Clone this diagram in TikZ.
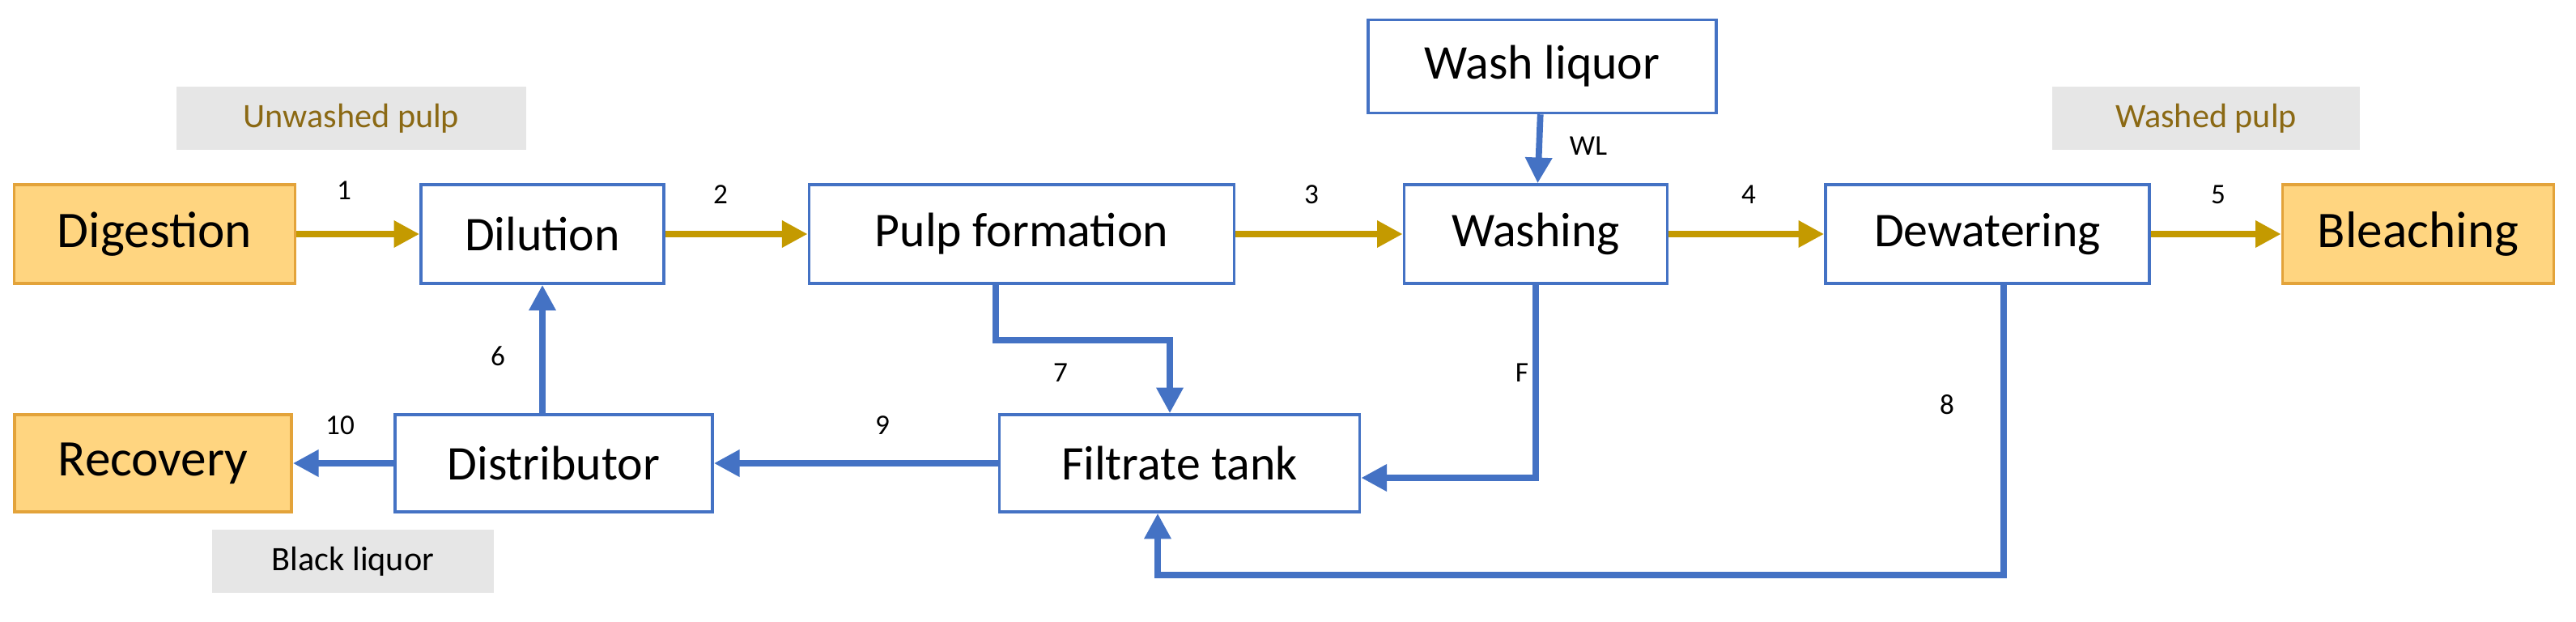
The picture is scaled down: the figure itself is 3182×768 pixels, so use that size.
\documentclass[tikz,border=0pt]{standalone}
\usepackage{fontspec}
\setmainfont{Carlito}
\usetikzlibrary{arrows.meta}
\definecolor{gold}{HTML}{C49A00}
\definecolor{bl}{HTML}{4472C4}
\definecolor{orf}{HTML}{FFD580}
\definecolor{orb}{HTML}{E3A33A}
\definecolor{gr}{HTML}{E6E6E6}
\definecolor{brn}{HTML}{8B6914}
\begin{document}
\begin{tikzpicture}[x=0.01cm,y=-0.01cm,
  box/.style={draw=bl,line width=1pt,fill=white,inner sep=0,font=\fontsize{17}{20}\selectfont},
  ext/.style={draw=orb,line width=1pt,fill=orf,inner sep=0,font=\fontsize{18}{20}\selectfont},
  tag/.style={fill=gr,inner sep=0,font=\fontsize{12}{14}\selectfont},
  ga/.style={draw=gold,line width=2.2pt,-{Triangle[length=9pt,width=9pt]}},
  ba/.style={draw=bl,line width=2.2pt,-{Triangle[length=9pt,width=9pt]}},
  lb/.style={font=\fontsize{10}{12}\selectfont}]
\useasboundingbox (0,0) rectangle (3182,768);
\node[ext,minimum width=3.47cm,minimum height=1.22cm] (dig) at (191,289) {Digestion};
\node[box,minimum width=3.00cm,minimum height=1.22cm] (dil) at (670,289) {Dilution};
\node[box,minimum width=5.25cm,minimum height=1.22cm] (pf) at (1262,289) {Pulp formation};
\node[box,minimum width=3.25cm,minimum height=1.22cm] (wa) at (1897,289) {Washing};
\node[box,minimum width=4.00cm,minimum height=1.22cm] (dw) at (2455,289) {Dewatering};
\node[ext,minimum width=3.35cm,minimum height=1.22cm] (ble) at (2987,289) {Bleaching};
\node[box,minimum width=4.30cm,minimum height=1.15cm] (wl) at (1905,82) {Wash liquor};
\node[box,minimum width=3.92cm,minimum height=1.20cm] (dis) at (684,572) {Distributor};
\node[ext,minimum width=3.42cm,minimum height=1.20cm] (rec) at (189,572) {Recovery};
\node[box,minimum width=4.45cm,minimum height=1.20cm] (ft) at (1457,572) {Filtrate tank};
\node[tag,text=brn,minimum width=4.32cm,minimum height=0.77cm] (uw) at (434,146) {Unwashed pulp};
\node[tag,text=brn,minimum width=3.80cm,minimum height=0.77cm] (wp) at (2725,146) {Washed pulp};
\node[tag,minimum width=3.48cm,minimum height=0.77cm] (bk) at (436,693) {Black liquor};
\draw[ga] (dig) -- (dil);
\draw[ga] (dil) -- (pf);
\draw[ga] (pf) -- (wa);
\draw[ga] (wa) -- (dw);
\draw[ga] (dw) -- (ble);
\draw[ba] (wl) -- (wa);
\draw[ba] (dil.south |- dis.north) -- (dil.south);
\draw[ba] (dis) -- (rec);
\draw[ba] (ft) -- (dis);
\coordinate (p7) at (1230,420);
\coordinate (q7) at (1445,420);
\draw[ba] (p7 |- pf.south) -- (p7) -- (q7) -- (q7 |- ft.north);
\coordinate (fy) at (0,590);
\draw[ba] (wa.south) |- (ft.east |- fy);
\coordinate (e8) at (2475,710);
\coordinate (f8) at (1430,710);
\draw[ba] (e8 |- dw.south) -- (e8) -- (f8) -- (f8 |- ft.south);
\node[lb] at (425,235) {1};
\node[lb] at (890,240) {2};
\node[lb] at (1620,240) {3};
\node[lb] at (2160,240) {4};
\node[lb] at (2740,240) {5};
\node[lb] at (1962,180) {WL};
\node[lb] at (615,440) {6};
\node[lb] at (1310,460) {7};
\node[lb] at (1880,460) {F};
\node[lb] at (2405,500) {8};
\node[lb] at (1090,525) {9};
\node[lb] at (420,525) {10};
\end{tikzpicture}
\end{document}
